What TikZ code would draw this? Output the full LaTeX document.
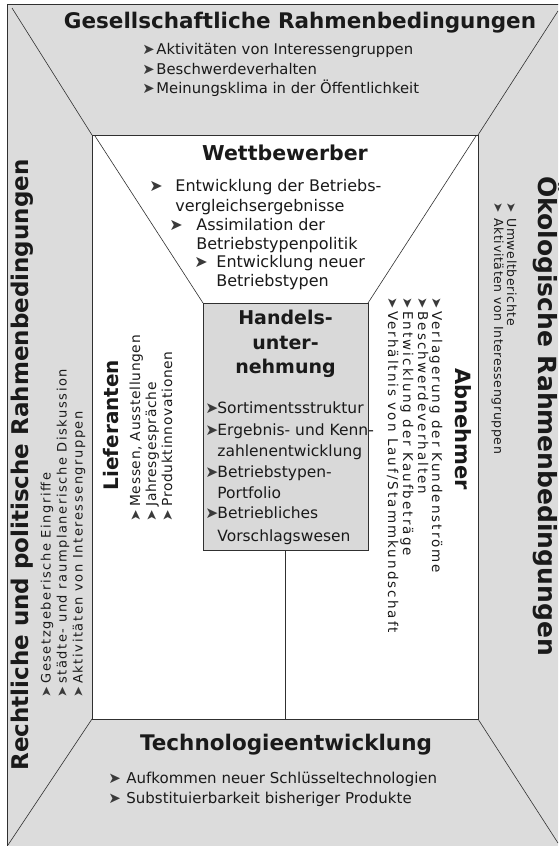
\documentclass[tikz,border=0pt]{standalone}
\usepackage{fontspec}
\usepackage{graphicx}
\setmainfont{DejaVu Sans}
\newfontfamily\bodyfont{DejaVu Sans}
\newfontfamily\arrfont{DejaVu Sans}
\newfontfamily\wideAfont[LetterSpace=15]{DejaVu Sans}
\newfontfamily\wideLfont[LetterSpace=12]{DejaVu Sans}
\newfontfamily\medfont[LetterSpace=5]{DejaVu Sans}
\definecolor{bandgray}{HTML}{DCDCDC}
\definecolor{boxgray}{HTML}{D9D9D9}
\definecolor{linegray}{HTML}{303030}
\definecolor{txt}{HTML}{1A1A1A}
\definecolor{arrgray}{HTML}{3A3A3A}
\newcommand{\barr}[1]{\makebox[#1][l]{\scalebox{1.0}{\arrfont\color{arrgray}➤}}}
\begin{document}
\begin{tikzpicture}[x=1pt,y=-1pt,line width=0.8pt,
  ttl/.style={font=\bfseries\fontsize{21.5}{24}\selectfont, inner sep=0pt, text=txt},
  itm/.style={anchor=base west, inner sep=0pt, text=txt},
  topf/.style={font=\bodyfont\fontsize{14.8}{17}\selectfont},
  wetf/.style={font=\bodyfont\fontsize{16}{18}\selectfont},
  boxf/.style={font=\bodyfont\fontsize{15.5}{18}\selectfont},
  lftf/.style={font=\wideLfont\fontsize{13}{15}\selectfont},
  rgtf/.style={font=\medfont\fontsize{12.5}{14}\selectfont},
  liff/.style={font=\medfont\fontsize{13.8}{15}\selectfont},
  abnf/.style={font=\wideAfont\fontsize{13.5}{15}\selectfont},
  edge/.style={draw=linegray, line width=0.8pt}
]
\useasboundingbox (0,0) rectangle (558,846);
\clip (0,0) rectangle (558,846);
% outer frame and inner field
\draw[edge, fill=bandgray] (7,4) rectangle (566,856);
\draw[edge, fill=white] (92,135) rectangle (478,719);
\coordinate (oTL) at (12,8);
\coordinate (oTR) at (558,11);
\coordinate (oBL) at (8,845);
\coordinate (oBR) at (558,843);
\coordinate (iTL) at (92,135);
\coordinate (iTR) at (478,135);
\coordinate (iBL) at (92,719);
\coordinate (iBR) at (478,719);
\draw[edge, line width=0.6pt] (oTL) -- (iTL);
\draw[edge, line width=0.6pt] (oTR) -- (iTR);
\draw[edge, line width=0.6pt] (oBL) -- (iBL);
\draw[edge, line width=0.6pt] (oBR) -- (iBR);
% centre box
\node[edge, fill=boxgray, anchor=north west, inner sep=0pt, outer sep=0pt,
      minimum width=165pt, minimum height=247pt] (box) at (203,303) {};
\coordinate (fTL) at (95,136);
\coordinate (fTR) at (476,136);
\coordinate (stemEnd) at (285.5,719);
\draw[edge, line width=0.6pt] (fTL) -- (box.north west);
\draw[edge, line width=0.6pt] (fTR) -- (box.north east);
\draw[edge] (box.south) -- (stemEnd);

% top band
\node[ttl] (tGes) at (300,23) {Gesellschaftliche Rahmenbedingungen};
\node[itm, topf] (g1) at (142,54) {\barr{14pt}Aktivitäten von Interessengruppen};
\node[itm, topf] (g2) at (142,74) {\barr{14pt}Beschwerdeverhalten};
\node[itm, topf] (g3) at (142,93) {\barr{14pt}Meinungsklima in der Öffentlichkeit};

% bottom band
\node[ttl] (tTech) at (286,745) {Technologieentwicklung};
\node[itm, font=\bodyfont\fontsize{15}{17}\selectfont] (t1) at (108,783) {\barr{18pt}Aufkommen neuer Schlüsseltechnologien};
\node[itm, font=\bodyfont\fontsize{15}{17}\selectfont] (t2) at (108,803) {\barr{18pt}Substituierbarkeit bisheriger Produkte};

% left band
\node[ttl, rotate=90, font=\bfseries\fontsize{23}{26}\selectfont] (tRecht) at (22,465) {Rechtliche und politische Rahmenbedingungen};
\node[itm, lftf, rotate=90] (r1) at (50.5,698) {\barr{14pt}Gesetzgeberische Eingriffe};
\node[itm, lftf, rotate=90] (r2) at (66.5,698) {\barr{14pt}städte- und raumplanerische Diskussion};
\node[itm, lftf, rotate=90] (r3) at (82.5,698) {\barr{14pt}Aktivitäten von Interessengruppen};

% right band
\node[ttl, rotate=-90, font=\bfseries\fontsize{25}{28}\selectfont] (tOeko) at (547,416) {Ökologische Rahmenbedingungen};
\node[itm, rgtf, rotate=-90] (o1) at (507,202) {\barr{16pt}Umweltberichte};
\node[itm, rgtf, rotate=-90] (o2) at (494,202) {\barr{16pt}Aktivitäten von Interessengruppen};

% Wettbewerber
\node[ttl, font=\bfseries\fontsize{20.5}{23}\selectfont] (tWett) at (285,153) {Wettbewerber};
\node[itm, wetf] (w1) at (149,191) {\barr{26pt}Entwicklung der Betriebs-};
\node[itm, wetf] (w1b) at (175,211) {vergleichsergebnisse};
\node[itm, wetf] (w2) at (169,230) {\barr{27pt}Assimilation der};
\node[itm, wetf] (w2b) at (196,249) {Betriebstypenpolitik};
\node[itm, wetf] (w3) at (194,267) {\barr{22pt}Entwicklung neuer};
\node[itm, wetf] (w3b) at (216,286) {Betriebstypen};

% Handelsunternehmung
\node[ttl, font=\bfseries\fontsize{19}{24.5}\selectfont, align=center, anchor=north] (tHan) at (285.5,310) {Handels-\\unter-\\nehmung};
\node[itm, boxf] (h1) at (205,413) {\barr{12pt}Sortimentsstruktur};
\node[itm, boxf] (h2) at (205,435) {\barr{12pt}Ergebnis- und Kenn-};
\node[itm, boxf] (h2b) at (217,456) {zahlenentwicklung};
\node[itm, boxf] (h3) at (205,477) {\barr{12pt}Betriebstypen-};
\node[itm, boxf] (h3b) at (217,498) {Portfolio};
\node[itm, boxf] (h4) at (205,518) {\barr{12pt}Betriebliches};
\node[itm, boxf] (h4b) at (217,541) {Vorschlagswesen};

% Lieferanten
\node[ttl, rotate=90, font=\bfseries\fontsize{20}{23}\selectfont] (tLief) at (111,425) {Lieferanten};
\node[itm, liff, rotate=90] (l1) at (140,522) {\barr{15pt}Messen, Ausstellungen};
\node[itm, liff, rotate=90] (l2) at (156,522) {\barr{15pt}Jahresgespräche};
\node[itm, liff, rotate=90] (l3) at (172,522) {\barr{15pt}Produktinnovationen};

% Abnehmer
\node[ttl, rotate=-90, font=\bfseries\fontsize{21}{24}\selectfont] (tAbn) at (463,429) {Abnehmer};
\node[itm, abnf, rotate=-90] (a1) at (432,297) {\barr{14pt}Verlagerung der Kundenströme};
\node[itm, abnf, rotate=-90] (a2) at (418,297) {\barr{14pt}Beschwerdeverhalten};
\node[itm, abnf, rotate=-90] (a3) at (403,297) {\barr{14pt}Entwicklung der Kaufbeträge};
\node[itm, abnf, rotate=-90] (a4) at (388,297) {\barr{14pt}Verhältnis von Lauf/Stammkundschaft};
\end{tikzpicture}
\end{document}
